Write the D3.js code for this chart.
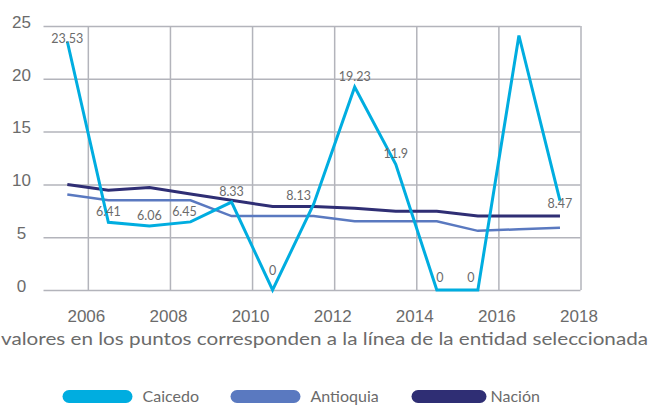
<!DOCTYPE html>
<html>
<head>
<meta charset="utf-8">
<script src="https://cdn.jsdelivr.net/npm/d3@7"></script>
<style>
  body { margin: 0; background: #fff; }
  svg { display: block; font-family: Lato, "Open Sans", sans-serif; }
</style>
</head>
<body>
<div id="chart"></div>
<script>
// data
const years = [2005, 2006, 2007, 2008, 2009, 2010, 2011, 2012, 2013, 2014, 2015, 2016, 2017];
const caicedo = [23.53, 6.41, 6.06, 6.45, 8.33, 0, 8.13, 19.23, 11.9, 0, 0, 24.1, 8.47];
const antioquia = [9.05, 8.5, 8.5, 8.5, 7.0, 7.0, 7.0, 6.5, 6.5, 6.5, 5.6, 5.75, 5.9];
const nacion = [10.0, 9.45, 9.7, 9.1, 8.5, 7.9, 7.9, 7.75, 7.45, 7.45, 7.0, 7.0, 7.0];
const pointLabels = ["23.53", "6.41", "6.06", "6.45", "8.33", "0", "8.13", "19.23", "11.9", "0", "0", null, "8.47"];
const xTicks = [2006, 2008, 2010, 2012, 2014, 2016, 2018];
const yTicks = [0, 5, 10, 15, 20, 25];
const seriesNames = ["Caicedo", "Antioquia", "Nación"];
const caption = "valores en los puntos corresponden a la línea de la entidad seleccionada";

const width = 651;
const height = 406;

/* colours */
const colors = { Caicedo: "#00ade0", Antioquia: "#5a79c0", "Nación": "#2f2e74" };
const gridColor = "#b3b4bb";
const textColor = "#6b6b6b";

const series = [
  { name: "Caicedo", values: caicedo, width: 3 },
  { name: "Antioquia", values: antioquia, width: 2.5 },
  { name: "Nación", values: nacion, width: 3 },
];

const svg = d3
  .select("#chart")
  .append("svg")
  .attr("width", width)
  .attr("height", height);

const x = d3.scaleLinear().domain([2004.92, 2018]).range([43.5, 580.5]);
const y = d3.scaleLinear().domain([0, 25]).range([290, 26]);

// horizontal grid + y labels
svg
  .append("g")
  .attr("transform", `translate(${x.range()[0]},0)`)
  .call(
    d3.axisLeft(y)
      .tickValues(yTicks)
      .tickSize(-(x.range()[1] - x.range()[0]))
      .tickPadding(0)
  )
  .call((g) => g.select(".domain").remove())
  .call((g) => g.selectAll(".tick line").attr("stroke", gridColor).attr("stroke-width", 1.5))
  .call((g) =>
    g.selectAll(".tick text")
      .attr("x", -22)
      .attr("dy", "0.08em")
      .attr("text-anchor", "middle")
      .attr("fill", textColor)
      .style("font-size", "17px")
  );

// vertical grid + x labels
svg
  .append("g")
  .attr("transform", `translate(0,${y(0)})`)
  .call(
    d3.axisBottom(x)
      .tickValues(xTicks)
      .tickFormat(d3.format("d"))
      .tickSize(-(y(0) - y(25)))
  )
  .call((g) => g.select(".domain").remove())
  .call((g) => g.selectAll(".tick line").attr("stroke", gridColor).attr("stroke-width", 1.5))
  .call((g) =>
    g.selectAll(".tick text")
      .attr("y", 20)
      .attr("dx", "-2")
      .attr("fill", textColor)
      .style("font-size", "17px")
  );

const line = d3
  .line()
  .x((d, i) => x(years[i] + 0.5))
  .y((d) => y(d));

// draw Nación first so Caicedo sits on top
series
  .slice()
  .reverse()
  .forEach((s) => {
    svg
      .append("path")
      .datum(s.values)
      .attr("fill", "none")
      .attr("stroke", colors[s.name])
      .attr("stroke-width", s.width)
      .attr("stroke-linejoin", "miter")
      .attr("d", line);
  });

// value labels on the selected entity (Caicedo); small nudges to copy the reference
const nudge = { 0: [0, 7], 3: [-6, 0], 5: [0, -9], 6: [-15, 2], 9: [3, -2], 10: [-7, -2], 12: [0, 13] };
svg
  .append("g")
  .selectAll("text")
  .data(caicedo.map((v, i) => ({ v, i, label: pointLabels[i] })).filter((d) => d.label !== null))
  .join("text")
  .attr("x", (d) => x(years[d.i] + 0.5) + (nudge[d.i] ? nudge[d.i][0] : 0))
  .attr("y", (d) => y(d.v) - 6 + (nudge[d.i] ? nudge[d.i][1] : 0))
  .attr("text-anchor", "middle")
  .attr("fill", textColor)
  .style("font-size", "12.5px")
  .text((d) => d.label);

// caption (clipped on the left like the original)
svg
  .append("text")
  .attr("x", 1)
  .attr("y", 345)
  .attr("fill", textColor)
  .style("font-size", "18px")
  .attr("textLength", 647)
  .attr("lengthAdjust", "spacingAndGlyphs")
  .text(caption);

// legend
const legendX = [62.5, 230.5, 411.5];
const legend = svg
  .append("g")
  .selectAll("g")
  .data(seriesNames)
  .join("g")
  .attr("transform", (d, i) => `translate(${legendX[i]},390)`);

legend
  .append("rect")
  .attr("width", (d, i) => (i === 2 ? 75 : 70))
  .attr("height", 13)
  .attr("rx", 6.5)
  .attr("fill", (d) => colors[d]);

legend
  .append("text")
  .attr("x", (d, i) => (i === 2 ? 79 : 80))
  .attr("y", 11.5)
  .attr("fill", textColor)
  .style("font-size", "16px")
  .text((d) => d);
</script>
</body>
</html>
